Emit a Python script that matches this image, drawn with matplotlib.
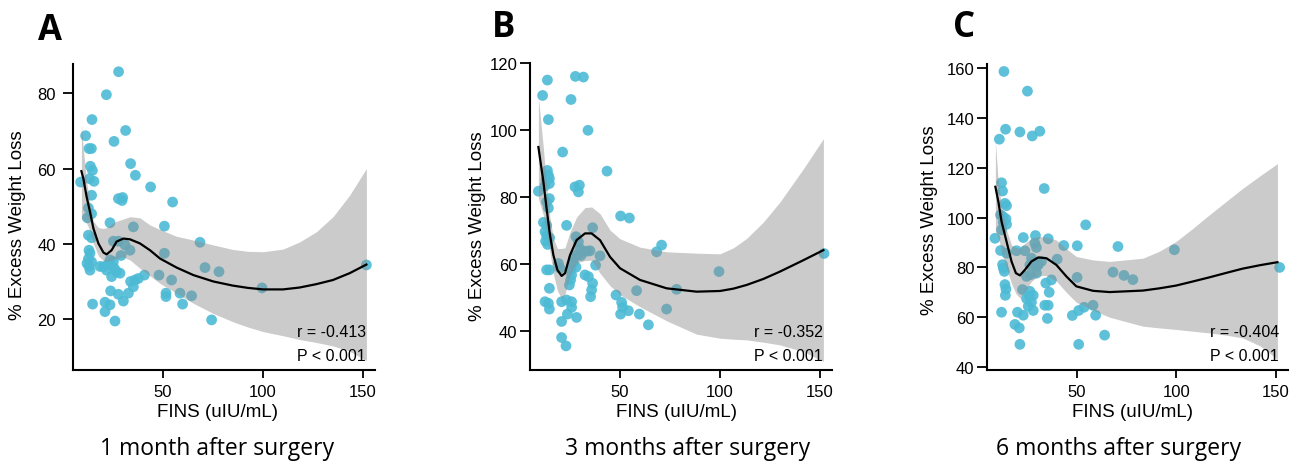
import matplotlib
matplotlib.use("Agg")
import matplotlib.pyplot as plt

# ---- values ----
# A: 1 month after surgery
fins_1m = [27.8, 21.7, 14.5, 31.3, 11.3, 25.5, 13.0, 14.2, 33.8, 13.7,
           14.7, 36.2, 8.8, 13.3, 15.5, 43.8, 14.3, 27.7, 29.8, 29.5,
           54.8, 12.7, 14.3, 12.2, 23.5, 35.2, 50.7, 12.7, 14.3, 25.2,
           27.7, 68.5, 31.0, 33.5, 13.0, 13.5, 50.7, 29.0, 12.7, 14.3,
           23.5, 25.2, 20.2, 21.8, 25.7, 26.8, 28.5, 13.0, 13.5, 24.3,
           71.0, 78.0, 48.0, 40.7, 54.3, 33.8, 36.0, 37.7, 35.2, 23.8,
           27.7, 32.7, 51.5, 51.5, 58.5, 64.3, 30.2, 14.8, 21.0, 23.5,
           59.8, 21.0, 26.0, 74.3, 99.5, 151.7, 12.0, 18.5, 22.5]
ewl_1m = [85.7, 79.6, 73.0, 70.1, 68.7, 67.2, 65.3, 65.3, 61.3, 60.6,
          59.5, 58.2, 56.4, 57.3, 56.6, 55.1, 52.9, 52.0, 52.3, 51.5,
          51.1, 49.5, 48.0, 46.9, 45.6, 44.5, 44.7, 42.3, 41.6, 40.7,
          40.7, 40.4, 39.7, 38.3, 38.3, 37.5, 37.5, 36.9, 36.0, 35.2,
          35.7, 35.3, 33.9, 33.0, 33.5, 32.6, 32.2, 34.0, 33.0, 31.3,
          33.7, 32.6, 31.7, 31.7, 30.4, 30.0, 30.4, 30.8, 28.6, 27.5,
          26.6, 26.9, 26.9, 26.0, 26.9, 26.2, 24.8, 24.0, 24.5, 23.8,
          24.0, 22.0, 19.5, 19.8, 28.3, 34.4, 34.8, 34.0, 34.5]
fit_x_1m = [9.2, 10.2, 11.8, 13.5, 15.2, 17.7, 20.2, 21.8, 24.3, 26.8, 30.2, 33.5, 38.5,
            43.5, 48.5, 56.8, 65.2, 75.2, 85, 92.5, 100, 110, 118.3, 126.7, 135, 143.3, 151.7]
fit_y_1m = [59.3, 57.3, 52.5, 48.5, 44.1, 40.1, 37.7, 37.2, 38.3, 40.6, 41.4, 41.2, 40.1,
            38.3, 36.1, 33.7, 31.7, 30.0, 28.9, 28.3, 27.9, 27.9, 28.4, 29.3, 30.4, 32.2, 34.5]
ci_hi_1m = [71.8, 65.0, 56.5, 50.5, 46.0, 44.3, 44.1, 44.3, 45.3, 46.0, 46.6, 47.2, 46.9,
            45.0, 43.8, 42.0, 41.0, 39.7, 38.5, 38.0, 37.9, 38.6, 40.5, 43.2, 47.2, 52.9, 60.0]
ci_lo_1m = [46.7, 46.3, 45.5, 43.5, 40.0, 36.8, 35.5, 35.3, 35.7, 36.1, 36.5, 35.7, 33.5,
            31.5, 29.5, 26.9, 24.2, 21.5, 19.3, 17.9, 16.7, 15.6, 14.6, 13.8, 12.9, 11.5, 9.0]

# B: 3 months after surgery
fins_3m = [13.7, 11.3, 27.7, 31.7, 25.5, 14.2, 34.0, 21.3, 43.5, 13.7,
           14.2, 14.7, 13.0, 14.7, 12.5, 9.2, 27.5, 29.7, 29.2, 14.7,
           13.3, 14.2, 50.3, 54.7, 11.7, 13.3, 23.3, 36.3, 12.5, 13.3,
           14.8, 12.8, 13.8, 28.0, 29.2, 70.8, 68.3, 30.0, 31.5, 33.5,
           35.0, 28.7, 27.0, 30.5, 40.0, 37.8, 26.7, 28.0, 25.5, 19.2,
           20.0, 13.3, 14.7, 25.8, 25.3, 24.7, 32.5, 34.2, 36.3, 35.8,
           35.3, 14.7, 58.3, 78.3, 99.5, 48.0, 50.8, 51.3, 54.2, 50.3,
           59.7, 64.2, 73.3, 12.5, 14.2, 14.7, 20.8, 23.3, 25.8, 25.8,
           23.7, 28.3, 20.8, 20.8, 23.0, 152.0]
ewl_3m = [114.9, 110.3, 116.0, 115.8, 109.1, 103.1, 99.9, 93.4, 87.7, 87.9,
          86.5, 85.5, 85.0, 84.0, 83.3, 81.7, 83.0, 83.5, 81.5, 79.5,
          78.5, 76.7, 74.3, 73.7, 72.4, 71.5, 71.5, 70.8, 69.6, 68.4,
          67.8, 66.8, 65.8, 68.1, 66.6, 65.6, 63.6, 64.5, 63.8, 63.8,
          63.9, 62.8, 61.8, 62.5, 62.4, 59.6, 60.3, 59.0, 58.2, 60.1,
          58.7, 58.2, 58.2, 56.7, 55.2, 53.7, 56.7, 56.2, 54.2, 52.2,
          50.2, 52.7, 52.0, 52.4, 57.7, 50.7, 48.5, 47.0, 46.0, 45.0,
          45.0, 41.8, 46.5, 48.7, 48.2, 46.5, 48.7, 49.2, 48.7, 47.0,
          45.0, 44.0, 42.8, 38.0, 35.5, 63.1]
fit_x_3m = [9.2, 11.7, 13.3, 15.0, 16.7, 18.7, 20.8, 22.5, 25.0, 28.3, 32.5, 35.8,
            40.0, 45.0, 50.0, 60.0, 73.3, 88.3, 100, 106.7, 113.3, 121.7, 130, 141.7, 151.7]
fit_y_3m = [94.9, 84.5, 76.5, 68.6, 62.6, 58.2, 56.4, 57.2, 62.6, 67.1, 69.1, 69.1,
            67.1, 62.1, 58.7, 55.2, 52.7, 51.7, 51.9, 52.6, 53.7, 55.5, 57.7, 61.1, 64.1]
ci_hi_3m = [109.8, 94.5, 83.5, 73.8, 67.5, 64.6, 64.6, 64.8, 69.5, 74.0, 76.8, 77.0,
            75.0, 70.1, 67.5, 65.0, 63.6, 63.2, 63.0, 64.8, 67.6, 72.5, 78.5, 88.4, 97.4]
ci_lo_3m = [79.5, 74.5, 69.5, 63.4, 57.0, 52.0, 49.7, 51.0, 56.5, 60.3, 61.0, 61.1,
            57.2, 53.5, 50.8, 47.2, 43.0, 39.0, 37.8, 37.5, 37.3, 36.6, 35.8, 33.8, 30.9]

# C: 6 months after surgery
fins_6m = [13.5, 25.3, 14.3, 11.2, 21.5, 27.7, 31.5, 33.7, 12.3, 12.8,
           14.0, 14.8, 11.8, 13.0, 14.5, 13.2, 14.8, 54.5, 12.3, 9.0,
           23.2, 29.3, 29.0, 29.8, 35.7, 43.5, 50.3, 70.7, 99.0, 11.8,
           14.8, 19.8, 24.0, 27.3, 28.2, 29.8, 26.5, 32.3, 30.7, 40.2,
           12.8, 13.2, 13.7, 24.8, 26.8, 29.8, 50.2, 68.2, 73.7, 78.2,
           151.8, 37.3, 34.5, 14.0, 14.5, 14.2, 22.8, 26.5, 26.2, 28.2,
           24.8, 27.3, 25.7, 36.2, 34.0, 35.7, 28.2, 12.3, 20.3, 23.2,
           35.3, 47.8, 51.0, 53.7, 58.2, 59.5, 19.0, 21.2, 64.0, 21.5, 51.0]
ewl_6m = [158.7, 150.8, 135.5, 131.5, 134.4, 132.8, 134.7, 111.7, 114.0, 110.7,
          105.7, 104.8, 101.1, 100.4, 99.5, 98.1, 97.3, 97.1, 95.1, 91.7,
          92.0, 92.8, 89.7, 88.0, 91.5, 88.8, 88.7, 88.4, 87.1, 86.8,
          85.7, 86.7, 86.7, 83.7, 82.0, 80.4, 81.0, 82.4, 81.0, 83.3,
          81.1, 79.7, 78.4, 76.4, 77.1, 77.7, 76.0, 78.1, 76.8, 75.1,
          80.0, 75.0, 73.7, 73.1, 71.3, 68.8, 71.1, 70.4, 68.5, 68.8,
          67.5, 66.0, 64.4, 70.0, 64.8, 64.8, 62.7, 62.0, 62.0, 60.8,
          59.5, 60.7, 62.7, 64.0, 64.8, 60.8, 57.1, 55.7, 52.8, 49.1, 49.1]
fit_x_6m = [9.2, 10.7, 12.3, 14.8, 17.3, 19.5, 21.5, 24.0, 27.3, 30.7, 34.8,
            39.8, 44.8, 49.8, 58.2, 66.5, 83.2, 91.5, 99.8, 108, 116.5, 125, 133.2, 142, 150.7]
fit_y_6m = [112.4, 106.4, 98.4, 90.4, 82.4, 77.7, 76.8, 79.0, 82.4, 84.0, 83.7,
            81.0, 76.4, 72.4, 70.6, 70.1, 70.7, 71.6, 72.7, 74.3, 76.0, 77.8, 79.5, 80.9, 82.1]
ci_hi_6m = [130.4, 114.0, 104.5, 95.0, 89.0, 88.0, 87.7, 89.7, 91.7, 92.4, 92.2,
            91.0, 87.5, 84.4, 83.0, 82.4, 83.7, 86.5, 90.4, 95.5, 101.1, 106.5, 111.7, 116.8, 121.7]
ci_lo_6m = [94.4, 92.0, 86.4, 79.7, 73.5, 69.5, 67.7, 70.4, 74.4, 76.6, 76.8,
            74.5, 70.0, 66.0, 62.8, 60.0, 56.4, 55.7, 55.1, 54.4, 53.7, 52.8, 51.7, 48.5, 43.1]

letters = ["A", "B", "C"]
subtitles = ["1 month after surgery", "3 months after surgery", "6 months after surgery"]
r_texts = ["r = -0.413", "r = -0.352", "r = -0.404"]
y_ticks = [[20, 40, 60, 80], [40, 60, 80, 100, 120], [40, 60, 80, 100, 120, 140, 160]]
y_lims = [(6.5, 87.75), (28.3, 120.0), (38.8, 161.7)]
x_ticks = [50, 100, 150]

panels = [
    (fins_1m, ewl_1m, fit_x_1m, fit_y_1m, ci_lo_1m, ci_hi_1m),
    (fins_3m, ewl_3m, fit_x_3m, fit_y_3m, ci_lo_3m, ci_hi_3m),
    (fins_6m, ewl_6m, fit_x_6m, fit_y_6m, ci_lo_6m, ci_hi_6m),
]

W, H = 1295, 464
# pixel layout of each panel: axes left/right/top, labels
axes_px = [(73, 375, 65), (530, 832, 64), (987, 1288, 65)]
ax_bottom = 371
ylabel_px = [(18, 225), (478, 226), (930, 220)]
xlabel_cx = [217.5, 676, 1132]
sub_cx = [217.5, 687.5, 1119]
letter_px = [(50, 40), (504, 37.5), (964, 37.5)]
ytick_pad = [5.0, 1.5, 1.5]

arial = "Liberation Sans"
fig = plt.figure(figsize=(W / 100, H / 100), dpi=100)

for i, (fx, fy, cx, cy, lo, hi) in enumerate(panels):
    left, right, top = axes_px[i]
    ax = fig.add_axes([left / W, 1 - ax_bottom / H, (right - left) / W, (ax_bottom - top) / H])

    ax.scatter(fx, fy, s=60, color="#4DBBD5", alpha=0.9, edgecolors="none", zorder=2)
    ax.fill_between(cx, lo, hi, color="#8c8c8c", alpha=0.45, linewidth=0, zorder=3)
    ax.plot(cx, cy, color="black", linewidth=1.6, zorder=4)

    ax.set_xlim(5, 156)
    ax.set_ylim(*y_lims[i])
    ax.set_xticks(x_ticks)
    ax.set_yticks(y_ticks[i])
    ax.spines["top"].set_visible(False)
    ax.spines["right"].set_visible(False)
    for s in ["left", "bottom"]:
        ax.spines[s].set_linewidth(1.5)
    ax.tick_params(axis="y", direction="out", length=7.5, width=1.3, pad=ytick_pad[i], labelsize=12)
    ax.tick_params(axis="x", direction="out", length=5.5, width=1.3, pad=4.5, labelsize=12)
    for lab in ax.get_xticklabels() + ax.get_yticklabels():
        lab.set_fontfamily(arial)

    ax.text(0.970, 0.110, r_texts[i], transform=ax.transAxes, ha="right", va="baseline",
            fontsize=11.5, family=arial, zorder=5)
    ax.text(0.970, 0.034, "P < 0.001", transform=ax.transAxes, ha="right", va="baseline",
            fontsize=11.5, family=arial, zorder=5)

    yx, yy = ylabel_px[i]
    fig.text(yx / W, 1 - yy / H, "% Excess Weight Loss", rotation=90, ha="center", va="center",
             fontsize=13.5, family=arial)
    fig.text(xlabel_cx[i] / W, 1 - 417.5 / H, "FINS (uIU/mL)", ha="center", va="baseline",
             fontsize=13.5, family=arial)
    fig.text(sub_cx[i] / W, 1 - 455 / H, subtitles[i], ha="center", va="baseline",
             fontsize=16.5, family="Open Sans")
    lx, ly = letter_px[i]
    fig.text(lx / W, 1 - ly / H, letters[i], ha="center", va="baseline",
             fontsize=25, fontweight="bold", family="Open Sans")

fig.savefig("out.png", dpi=100)
